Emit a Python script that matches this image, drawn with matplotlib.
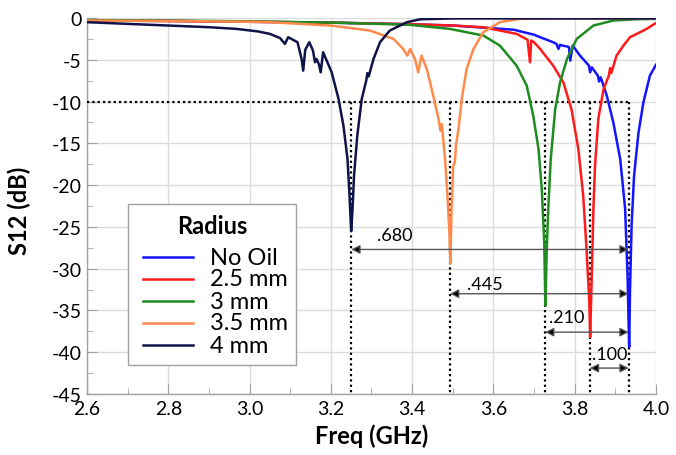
import matplotlib
matplotlib.use("Agg")
import matplotlib.pyplot as plt
from matplotlib.ticker import MultipleLocator, FormatStrFormatter
from matplotlib.patches import Rectangle

plt.rcParams['font.family'] = ['Lato', 'DejaVu Sans']
plt.rcParams['axes.unicode_minus'] = False

# ---------------- data ----------------
labels = ["No Oil", "2.5 mm", "3 mm", "3.5 mm", "4 mm"]
colors = ["#1414ff", "#ff1a1a", "#1e8c1e", "#ff8a4c", "#12124a"]
legend_title = "Radius"

f_nooil = [2.6, 2.8, 3.0, 3.2, 3.4, 3.5, 3.56, 3.65, 3.7, 3.715, 3.747, 3.755, 3.760, 3.764,
           3.770, 3.781, 3.786, 3.789, 3.795, 3.813, 3.835, 3.838, 3.842, 3.857, 3.860, 3.864,
           3.879, 3.895, 3.912, 3.924, 3.930, 3.934, 3.936, 3.940, 3.946, 3.957, 3.969, 3.985, 4.0]
s_nooil = [-0.3, -0.35, -0.45, -0.55, -0.75, -0.9, -1.1, -1.4, -2.0, -2.3, -2.9, -3.1, -3.7, -3.2,
           -3.3, -3.4, -3.5, -5.1, -3.3, -4.5, -5.7, -6.5, -5.9, -6.9, -7.6, -7.1,
           -9.3, -12.5, -16.9, -22.8, -30.8, -39.4, -32.8, -24.8, -18.9, -13.7, -10.1, -6.9, -5.6]

f_25 = [2.6, 2.8, 3.0, 3.2, 3.4, 3.5, 3.575, 3.657, 3.684, 3.690, 3.693, 3.700, 3.715, 3.747,
        3.772, 3.792, 3.809, 3.821, 3.829, 3.836, 3.838, 3.842, 3.846, 3.850, 3.858, 3.871,
        3.884, 3.887, 3.890, 3.903, 3.920, 3.936, 3.961, 3.977, 3.993, 4.0]
s_25 = [-0.3, -0.35, -0.45, -0.55, -0.75, -0.9, -1.1, -1.9, -2.6, -5.3, -2.7, -2.9, -3.7, -5.7,
        -7.7, -10.9, -15.7, -21.3, -27.6, -34.0, -38.2, -30.8, -22.8, -17.7, -12.1, -8.5,
        -6.9, -6.0, -6.6, -4.5, -3.3, -2.3, -1.7, -1.3, -0.8, -0.6]

f_3 = [2.6, 2.8, 3.0, 3.2, 3.39, 3.493, 3.575, 3.616, 3.657, 3.682, 3.698, 3.711, 3.719, 3.725,
       3.728, 3.731, 3.735, 3.741, 3.752, 3.764, 3.781, 3.805, 3.846, 3.895, 3.95, 4.0]
s_3 = [-0.25, -0.3, -0.4, -0.55, -0.8, -1.3, -2.1, -3.3, -5.7, -8.1, -11.7, -15.7, -20.5, -26.8,
       -34.4, -28.0, -22.8, -16.9, -10.9, -7.7, -4.9, -2.5, -0.9, -0.3, -0.15, -0.1]

f_35 = [2.6, 2.8, 3.0, 3.05, 3.2, 3.296, 3.354, 3.378, 3.388, 3.395, 3.407, 3.415, 3.423, 3.436,
        3.452, 3.465, 3.470, 3.473, 3.481, 3.487, 3.492, 3.494, 3.497, 3.501, 3.505, 3.508,
        3.514, 3.522, 3.534, 3.551, 3.575, 3.616, 3.665, 3.8, 4.0]
s_35 = [-0.3, -0.35, -0.45, -0.5, -0.9, -1.5, -2.5, -3.7, -4.5, -3.7, -4.9, -6.5, -4.5, -6.1,
        -9.3, -12.1, -13.5, -12.7, -16.9, -21.3, -26.0, -29.4, -22.8, -17.7, -17.3, -15.2,
        -13.3, -9.7, -6.1, -3.7, -1.7, -0.5, -0.1, -0.05, -0.05]

f_4 = [2.6, 2.8, 2.9, 2.967, 3.02, 3.05, 3.075, 3.087, 3.095, 3.118, 3.128, 3.132, 3.137, 3.147,
       3.156, 3.161, 3.165, 3.171, 3.175, 3.181, 3.202, 3.219, 3.231, 3.241, 3.246, 3.250,
       3.253, 3.257, 3.265, 3.276, 3.287, 3.290, 3.293, 3.305, 3.321, 3.345, 3.387, 3.42, 3.5, 4.0]
s_4 = [-0.5, -0.9, -1.1, -1.3, -1.6, -1.9, -2.4, -3.1, -2.3, -2.9, -4.9, -6.3, -3.8, -2.9,
       -3.9, -5.3, -4.9, -5.6, -6.5, -4.1, -6.5, -9.7, -12.9, -16.9, -21.3, -25.5,
       -23.2, -18.9, -14.1, -9.7, -7.5, -6.6, -7.0, -4.9, -2.9, -1.5, -0.5, -0.15, -0.05, -0.05]

series_f = [f_nooil, f_25, f_3, f_35, f_4]
series_s = [s_nooil, s_25, s_3, s_35, s_4]

# resonance markers: 4 mm, 3.5 mm, 3 mm, 2.5 mm, No Oil
res_freq = [3.250, 3.493, 3.727, 3.837, 3.933]
threshold = -10
shift_labels = [".680", ".445", ".210", ".100"]
arrow_levels = [-27.7, -33.0, -37.6, -41.9]
text_x = [3.356, 3.579, 3.780, 3.885]
text_y = [-26.0, -31.8, -35.8, -40.2]

# ---------------- figure ----------------
fig = plt.figure(figsize=(6.76, 4.56), dpi=100)
ax = fig.add_axes([0.1287, 0.1338, 0.8417, 0.8245])

ax.set_xlim(2.6, 4.0)
ax.set_ylim(-45, 0)
ax.xaxis.set_major_locator(MultipleLocator(0.2))
ax.xaxis.set_minor_locator(MultipleLocator(0.1))
ax.yaxis.set_major_locator(MultipleLocator(5))
ax.yaxis.set_minor_locator(MultipleLocator(2.5))
ax.xaxis.set_major_formatter(FormatStrFormatter('%.1f'))
ax.yaxis.set_major_formatter(FormatStrFormatter('%d'))
ax.grid(True, which='major', color='#dcdcdc', lw=1.0, zorder=0)
ax.set_axisbelow(True)
for sp in ['top', 'right']:
    ax.spines[sp].set_visible(False)
for sp in ['left', 'bottom']:
    ax.spines[sp].set_color('#a0a0a0')
    ax.spines[sp].set_linewidth(1.0)
ax.tick_params(which='major', direction='in', length=7, color='#a0a0a0', labelsize=14,
               pad=4)
ax.tick_params(which='minor', direction='in', length=4, color='#a0a0a0')

# threshold and resonance markers
dot = (0, (1, 1.4))
ax.plot([2.6, res_freq[-1]], [threshold, threshold], color='black', lw=1.6, ls=dot, zorder=3)
for fr in res_freq:
    ax.plot([fr, fr], [threshold, -45], color='black', lw=1.6, ls=dot, zorder=3)

for f, s, c, lab in zip(series_f, series_s, colors, labels):
    ax.plot(f, s, color=c, lw=1.8, label=lab, zorder=4)

# shift arrows
for i, lab in enumerate(shift_labels):
    ax.annotate('', xy=(res_freq[i], arrow_levels[i]), xytext=(res_freq[-1], arrow_levels[i]),
                arrowprops=dict(arrowstyle='<|-|>', fc='black', ec='#555555', lw=1.0,
                                mutation_scale=13, shrinkA=0, shrinkB=0), zorder=5)
    ax.text(text_x[i], text_y[i], lab, fontsize=13, ha='center', va='center', zorder=6)

ax.set_xlabel('Freq (GHz)', fontsize=17, fontweight='bold')
ax.set_ylabel('S12 (dB)', fontsize=17, fontweight='bold')
ax.xaxis.set_label_coords(0.5, -0.078)
ax.yaxis.set_label_coords(-0.098, 0.49)

# legend box (drawn in axes coordinates, Excel-like tight rows)
T = ax.transAxes
ax.add_patch(Rectangle((0.072, 0.077), 0.295, 0.428, transform=T, facecolor='white',
                       edgecolor='#a0a0a0', lw=1.0, zorder=7))
ax.text(0.2197, 0.447, legend_title, transform=T, fontsize=17, fontweight='bold',
        ha='center', va='center', zorder=8)
row_y = [0.364, 0.306, 0.247, 0.189, 0.130]
for yy, c, lab in zip(row_y, colors, labels):
    ax.plot([0.0984, 0.1863], [yy, yy], transform=T, color=c, lw=1.8, zorder=8)
    ax.text(0.216, yy, lab, transform=T, fontsize=17, ha='left', va='center', zorder=8)

fig.savefig('out.png', dpi=100)
